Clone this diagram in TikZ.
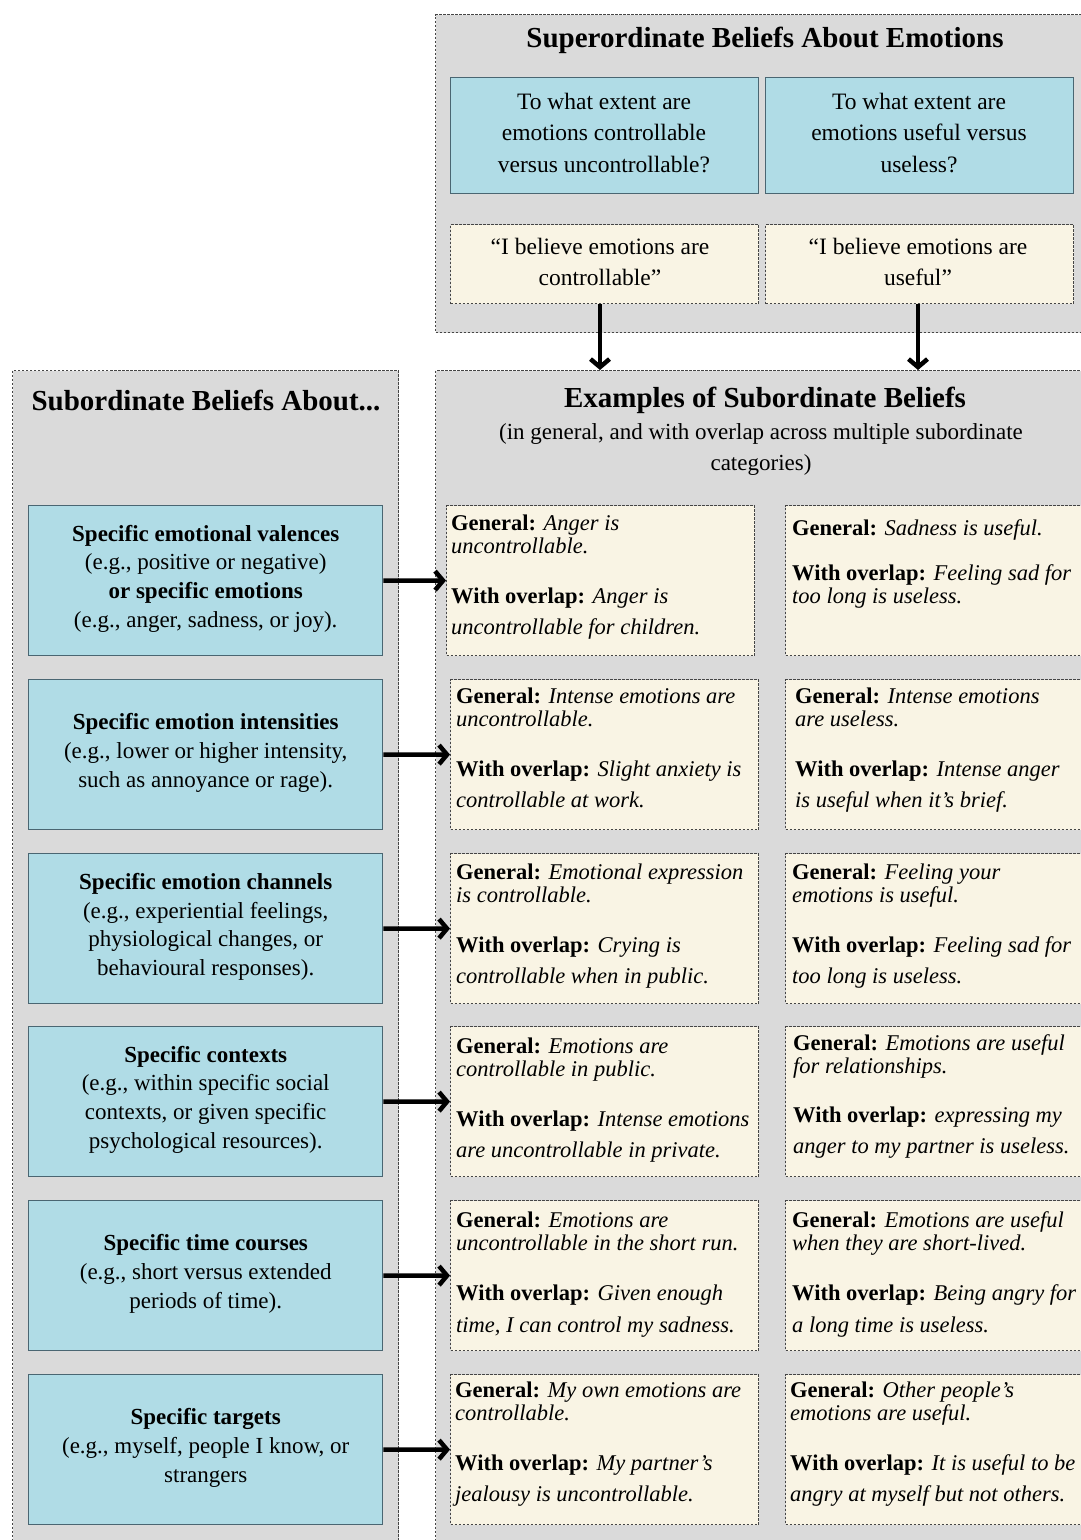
\documentclass[tikz,border=0pt]{standalone}
\usepackage{fontspec}
\setmainfont{Liberation Serif}
\usetikzlibrary{arrows.meta}
\definecolor{grayfill}{HTML}{DADADA}
\definecolor{bluefill}{HTML}{B0DCE6}
\definecolor{blueline}{HTML}{4A6672}
\definecolor{creamfill}{HTML}{F9F4E4}
\definecolor{dashline}{HTML}{454545}
\newcommand{\gen}{\textbf{General:} }
\newcommand{\wov}{\textbf{With overlap:} }
\begin{document}
\begin{tikzpicture}[x=1pt,y=-1pt,
  panel/.style={draw=dashline, fill=grayfill, dash pattern=on 2.5pt off 1.5pt, line width=1pt, anchor=north west, inner sep=0pt},
  qbox/.style={draw=blueline, fill=bluefill, line width=1.4pt, anchor=north west, inner sep=0pt},
  cbox/.style={draw=dashline, fill=creamfill, dash pattern=on 2.5pt off 1.5pt, line width=1.2pt, anchor=north west, inner sep=0pt},
  ptitle/.style={font=\fontsize{29}{33}\selectfont\bfseries, inner sep=0pt},
  subtitle/.style={font=\fontsize{23}{31}\selectfont, align=center, inner sep=0pt},
  toptext/.style={font=\fontsize{23.5}{31.5}\selectfont, align=center, inner sep=0pt},
  lefttext/.style={font=\fontsize{23}{28.7}\selectfont, align=center, inner sep=0pt},
  ctext/.style={font=\fontsize{22.5}{23}\selectfont, align=left, inner sep=0pt, anchor=north west},
  bigarrow/.style={line width=4.5pt, -{Straight Barb[length=8pt,width=19pt]}}
]
\useasboundingbox (0,0) rectangle (1081,1540);
\fill[white] (0,0) rectangle (1081,1540);

% panels
\node[panel, minimum width=650pt, minimum height=318pt] (sup) at (435,14) {};
\node[panel, minimum width=386pt, minimum height=1180pt] (sub) at (12,370) {};
\node[panel, minimum width=650pt, minimum height=1180pt] (ex) at (435,370) {};

\node[ptitle] (suptitle) at (765,40) {Superordinate Beliefs About Emotions};
\node[ptitle] (subtitleL) at (206,400) {Subordinate Beliefs About...};
\node[ptitle] (extitle) at (765,400) {Examples of Subordinate Beliefs};
\node[subtitle] (exsub) at (761,449) {(in general, and with overlap across multiple subordinate\\categories)};

% superordinate boxes
\node[qbox, minimum width=308pt, minimum height=116pt] (q1) at (450,77) {};
\node[qbox, minimum width=308pt, minimum height=116pt] (q2) at (765,77) {};
\node[toptext] (q1t) at (604,133) {To what extent are\\emotions controllable\\versus uncontrollable?};
\node[toptext] (q2t) at (919,133) {To what extent are\\emotions useful versus\\useless?};

\node[cbox, minimum width=308pt, minimum height=79pt] (b1) at (450,224) {};
\node[cbox, minimum width=308pt, minimum height=79pt] (b2) at (765,224) {};
\node[toptext] (b1t) at (600,262) {“I believe emotions are\\controllable”};
\node[toptext] (b2t) at (918,262) {“I believe emotions are\\useful”};

\draw[bigarrow] (b1.south -| 600,0) -- (600,370 |- ex.north);
\draw[bigarrow] (b2.south -| 918,0) -- (918,370 |- ex.north);

% left blue boxes
\foreach \i/\y in {1/505,2/679,3/853,4/1026,5/1200,6/1374}{
  \node[qbox, minimum width=354pt, minimum height=150pt] (s\i) at (28,\y) {};
}
\node[lefttext] (s1t) at ([yshift=2pt]s1.center) {\textbf{Specific emotional valences}\\(e.g., positive or negative)\\\textbf{or specific emotions}\\(e.g., anger, sadness, or joy).};
\node[lefttext] (s2t) at ([yshift=2pt]s2.center) {\textbf{Specific emotion intensities}\\(e.g., lower or higher intensity,\\such as annoyance or rage).};
\node[lefttext] (s3t) at ([yshift=2pt]s3.center) {\textbf{Specific emotion channels}\\(e.g., experiential feelings,\\physiological changes, or\\behavioural responses).};
\node[lefttext] (s4t) at ([yshift=2pt]s4.center) {\textbf{Specific contexts}\\(e.g., within specific social\\contexts, or given specific\\psychological resources).};
\node[lefttext] (s5t) at ([yshift=2pt]s5.center) {\textbf{Specific time courses}\\(e.g., short versus extended\\periods of time).};
\node[lefttext] (s6t) at ([yshift=2pt]s6.center) {\textbf{Specific targets}\\(e.g., myself, people I know, or\\strangers};

% cream example boxes
\node[cbox, minimum width=308pt, minimum height=150pt] (c1L) at (446,505) {};
\foreach \i/\y in {2/679,3/853,4/1026,5/1200,6/1374}{
  \node[cbox, minimum width=308pt, minimum height=150pt] (c\i L) at (450,\y) {};
}
\foreach \i/\y in {1/505,2/679,3/853,4/1026,5/1200,6/1374}{
  \node[cbox, minimum width=300pt, minimum height=150pt] (c\i R) at (785,\y) {};
}

\node[ctext] (t1L) at ([xshift=5pt,yshift=-9.5pt]c1L.north west) {\gen\textit{Anger is}\\\textit{uncontrollable.}\\[27pt]\wov\textit{Anger is}\\[8pt]\textit{uncontrollable for children.}};
\node[ctext] (t1R) at ([xshift=7pt,yshift=-14.5pt]c1R.north west) {\gen\textit{Sadness is useful.}\\[22pt]\wov\textit{Feeling sad for}\\\textit{too long is useless.}};

\node[ctext] (t2L) at ([xshift=6pt,yshift=-8.5pt]c2L.north west) {\gen\textit{Intense emotions are}\\\textit{uncontrollable.}\\[27pt]\wov\textit{Slight anxiety is}\\[8pt]\textit{controllable at work.}};
\node[ctext] (t2R) at ([xshift=10pt,yshift=-8.5pt]c2R.north west) {\gen\textit{Intense emotions}\\\textit{are useless.}\\[27pt]\wov\textit{Intense anger}\\[8pt]\textit{is useful when it’s brief.}};

\node[ctext] (t3L) at ([xshift=6pt,yshift=-10.5pt]c3L.north west) {\gen\textit{Emotional expression}\\\textit{is controllable.}\\[27pt]\wov\textit{Crying is}\\[8pt]\textit{controllable when in public.}};
\node[ctext] (t3R) at ([xshift=7pt,yshift=-10.5pt]c3R.north west) {\gen\textit{Feeling your}\\\textit{emotions is useful.}\\[27pt]\wov\textit{Feeling sad for}\\[8pt]\textit{too long is useless.}};

\node[ctext] (t4L) at ([xshift=6pt,yshift=-11.5pt]c4L.north west) {\gen\textit{Emotions are}\\\textit{controllable in public.}\\[27pt]\wov\textit{Intense emotions}\\[8pt]\textit{are uncontrollable in private.}};
\node[ctext] (t4R) at ([xshift=8pt,yshift=-8.5pt]c4R.north west) {\gen\textit{Emotions are useful}\\\textit{for relationships.}\\[26pt]\wov\textit{expressing my}\\[8pt]\textit{anger to my partner is useless.}};

\node[ctext] (t5L) at ([xshift=6pt,yshift=-11.5pt]c5L.north west) {\gen\textit{Emotions are}\\\textit{uncontrollable in the short run.}\\[27pt]\wov\textit{Given enough}\\[9pt]\textit{time, I can control my sadness.}};
\node[ctext] (t5R) at ([xshift=7pt,yshift=-11.5pt]c5R.north west) {\gen\textit{Emotions are useful}\\\textit{when they are short-lived.}\\[27pt]\wov\textit{Being angry for}\\[9pt]\textit{a long time is useless.}};

\node[ctext] (t6L) at ([xshift=5pt,yshift=-7.5pt]c6L.north west) {\gen\textit{My own emotions are}\\\textit{controllable.}\\[27pt]\wov\textit{My partner’s}\\[8pt]\textit{jealousy is uncontrollable.}};
\node[ctext] (t6R) at ([xshift=5pt,yshift=-7.5pt]c6R.north west) {\gen\textit{Other people’s}\\\textit{emotions are useful.}\\[27pt]\wov\textit{It is useful to be}\\[8pt]\textit{angry at myself but not others.}};

% arrows from subordinate categories to examples
\foreach \i in {1,...,6}{
  \draw[bigarrow] (s\i.east) -- (c\i L.west);
}
\end{tikzpicture}
\end{document}
